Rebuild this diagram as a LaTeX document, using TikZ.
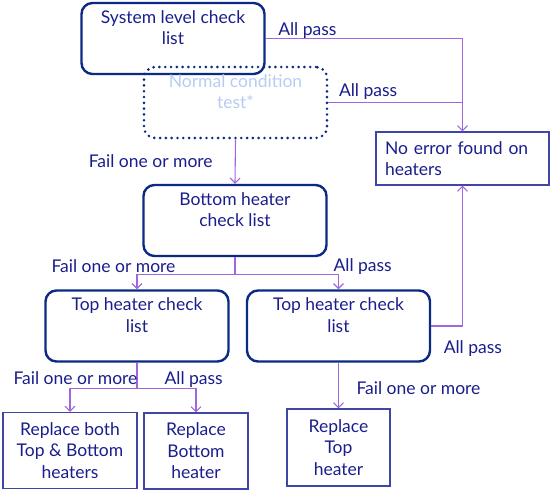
\documentclass[tikz,border=0pt]{standalone}
\usepackage{fontspec}
\setmainfont{Lato}
\usetikzlibrary{arrows.meta}
\definecolor{boxnavy}{HTML}{0B2A84}
\definecolor{textnavy}{HTML}{1A1E8C}
\definecolor{thinblue}{HTML}{3F46A6}
\definecolor{linkviolet}{HTML}{A066E0}
\definecolor{paleblue}{HTML}{B8CCF2}
\begin{document}
\begin{tikzpicture}[
   x=1pt, y=-1pt,
   font=\fontsize{17.5}{21.5}\selectfont,
   chk/.style={draw=boxnavy, line width=2.4pt, rounded corners=11pt,
      align=center, text=textnavy, minimum width=183pt, minimum height=71pt,
      inner sep=0pt},
   pale/.style={chk, text=paleblue, line width=2.9pt,
      dash pattern=on 0pt off 5.8pt, line cap=round},
   res/.style={draw=thinblue, line width=1.1pt, align=center, text=textnavy,
      inner sep=0pt},
   link/.style={draw=linkviolet, line width=1.1pt},
   arrow/.style={link, -{Straight Barb[length=5pt, width=10pt]}},
   lab/.style={text=textnavy, inner sep=0pt}
]
\useasboundingbox (0,0) rectangle (550,495);
\node[chk] (system) at (173,38.5) {System level check\\list\\~};
\node[pale] (normal) at (235.5,102.5) {Normal condition\\test*\\~};
\node[res, text width=155pt, align=left, minimum height=53pt,
   inner xsep=9pt] (noerr) at (462.5,158.5) {No error found on\\heaters};
\node[chk] (bottom) at (235,220.5) {Bottom heater\\check list\\~};
\node[chk] (topleft) at (137,326) {Top heater check\\list\\~};
\node[chk] (topright) at (338.5,326) {Top heater check\\list\\~};
\node[res, minimum width=134pt, minimum height=76pt] (replboth)
   at (70,450.5) {Replace both\\Top \& Bottom\\heaters};
\node[res, minimum width=104pt, minimum height=76pt] (replbottom)
   at (196,451) {Replace\\Bottom\\heater};
\node[res, minimum width=103pt, minimum height=77pt] (repltop)
   at (338.5,447.5) {Replace\\Top\\heater};

\coordinate (bsplit) at ([yshift=-17pt]bottom.south);
\coordinate (tsplit) at ([yshift=-26pt]topleft.south);

\draw[arrow] (system.east) -| node[lab, pos=0, anchor=base west, xshift=12pt,
   yshift=3pt] {All pass} (noerr.north);
\draw[link] (normal.east) -- node[lab, pos=0, anchor=base west, xshift=10pt,
   yshift=6pt] {All pass} (normal.east -| noerr.north);
\draw[arrow] (normal.south) -- node[lab, anchor=base east, xshift=-22pt,
   yshift=-6pt] {Fail one or more} (bottom.north);
\draw[link] (bottom.south) -- (bsplit);
\draw[arrow] (bsplit) -| node[lab, pos=0.5, anchor=base east, xshift=39pt,
   yshift=2pt] {Fail one or more} (topleft.north);
\draw[arrow] (bsplit) -| node[lab, pos=0.5, anchor=base west, xshift=-5.5pt,
   yshift=3pt] {All pass} (topright.north);
\draw[arrow] (topright.east) -| node[lab, pos=0, anchor=base west,
   xshift=12pt, yshift=-27pt] {All pass} (noerr.south);
\draw[link] (topleft.south) -- (tsplit);
\draw[arrow] (tsplit) -| node[lab, pos=0, anchor=base east, xshift=1pt,
   yshift=4pt] {Fail one or more} (replboth.north);
\draw[arrow] (tsplit) -| node[lab, pos=0, anchor=base west, xshift=27pt,
   yshift=4pt] {All pass} (replbottom.north);
\draw[arrow] (topright.south) -- node[lab, anchor=base west, xshift=17.5pt,
   yshift=-8.5pt] {Fail one or more} (repltop.north);
\end{tikzpicture}
\end{document}
